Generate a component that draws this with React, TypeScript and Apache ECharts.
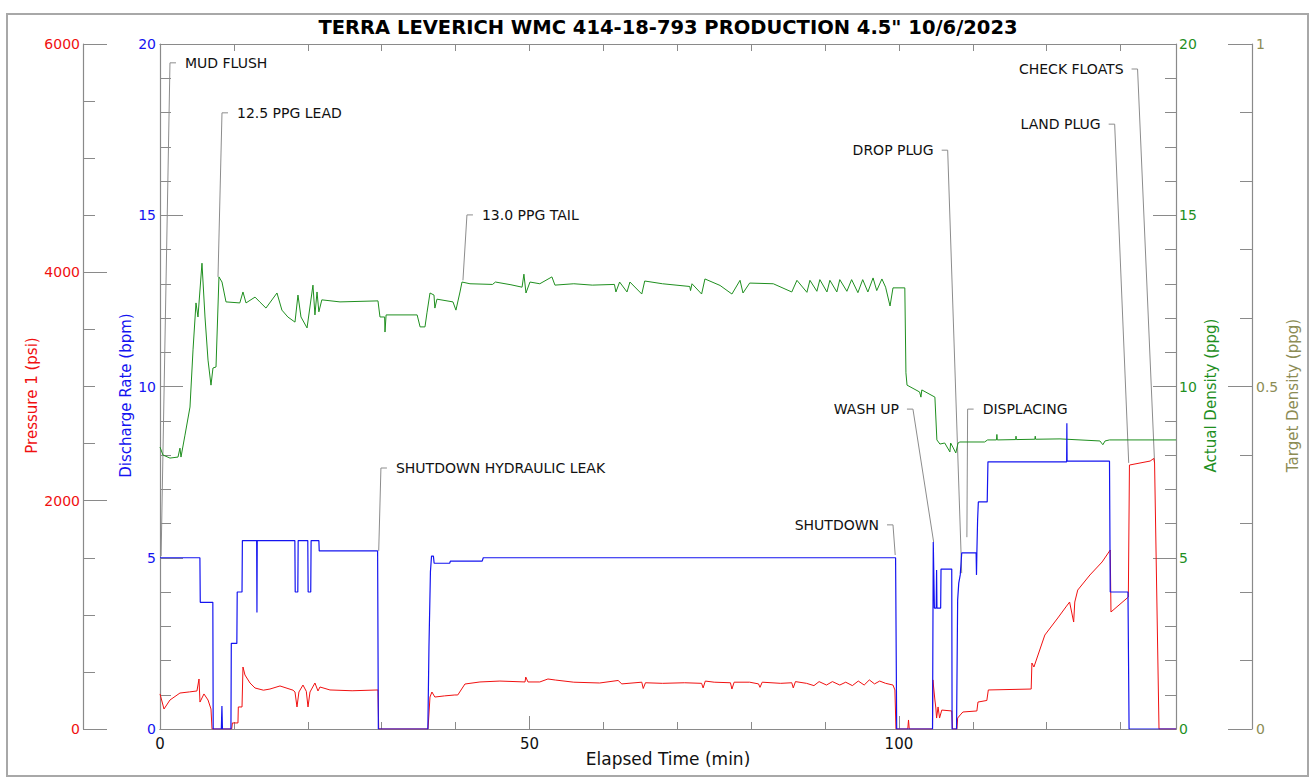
import React, { useEffect, useRef } from "react";
import * as echarts from "echarts";

const FONT = '"DejaVu Sans", Verdana, sans-serif';

const chartTitle = 'TERRA LEVERICH WMC 414-18-793 PRODUCTION 4.5" 10/6/2023';
const xAxisTitle = "Elapsed Time (min)";
const pressureTitle = "Pressure 1 (psi)";
const rateTitle = "Discharge Rate (bpm)";
const actualDensityTitle = "Actual Density (ppg)";
const targetDensityTitle = "Target Density (ppg)";

// Discharge rate (bpm) vs elapsed time (min)
const dischargeRate: number[][] = [
  [0, 5.0], [5.4, 5.0], [5.45, 3.7], [7.15, 3.7], [7.2, 0], [8.3, 0], [8.38, 0.67], [8.45, 0],
  [9.6, 0], [9.65, 2.5], [10.4, 2.5], [10.45, 4.0], [11.1, 4.0], [11.15, 5.5], [13.08, 5.5],
  [13.12, 3.4], [13.16, 5.5], [18.25, 5.5], [18.3, 4.0], [18.65, 4.0], [18.7, 5.5], [20.0, 5.5],
  [20.05, 4.0], [20.4, 4.0], [20.45, 5.5], [21.5, 5.5], [21.55, 5.2], [29.45, 5.2], [29.55, 0],
  [36.25, 0], [36.4, 2.4], [36.6, 4.6], [36.75, 5.05], [37.0, 5.05], [37.1, 4.84], [39.2, 4.84],
  [39.3, 4.9], [43.6, 4.9], [43.75, 5.0], [99.55, 5.0], [99.7, 0], [104.55, 0], [104.65, 5.46],
  [104.8, 3.53], [105.05, 3.53], [105.1, 4.64], [105.15, 3.53], [105.65, 3.53], [105.7, 4.67],
  [107.15, 4.67], [107.2, 0], [107.8, 0], [107.95, 3.77], [108.1, 4.26], [108.3, 4.5],
  [108.5, 5.14], [110.45, 5.14], [110.5, 4.5], [110.55, 5.14], [110.65, 6.1], [110.75, 6.63],
  [111.95, 6.63], [112.05, 7.8], [122.7, 7.8], [122.73, 8.93], [122.76, 7.82], [128.5, 7.82],
  [128.6, 4.0], [131.0, 4.0], [131.15, 0], [137.5, 0],
];

// Pressure 1 (psi) vs elapsed time (min)
const pressure: number[][] = [
  [0, 307], [0.54, 175], [1.35, 254], [2.7, 315], [4.0, 325], [5.0, 333], [5.28, 438], [5.41, 236],
  [5.95, 307], [6.5, 254], [6.9, 175], [7.04, 0], [9.7, 0], [9.8, 53], [10.55, 53], [10.6, 193],
  [11.1, 193], [11.23, 543], [11.5, 473], [12.18, 403], [12.86, 359], [14.0, 340], [14.88, 350],
  [16.24, 377], [18.0, 340], [18.27, 324], [18.54, 193], [18.8, 324], [19.35, 385], [19.8, 330],
  [20.03, 193], [20.3, 324], [20.97, 403], [21.38, 333], [21.65, 368], [23.0, 342], [26.0, 335],
  [29.5, 342], [29.6, 0], [36.27, 0], [36.54, 280], [36.8, 324], [37.2, 280], [38.5, 290],
  [39.9, 298], [40.3, 298], [41.27, 394], [43.3, 412], [46.0, 420], [49.4, 412], [49.5, 455],
  [49.8, 412], [51.4, 412], [52.5, 438], [53.5, 429], [56.0, 410], [59.5, 403], [62.0, 425],
  [62.5, 395], [65.2, 410], [65.4, 355], [65.7, 405], [68.0, 400], [71.0, 405], [73.3, 400],
  [73.5, 360], [73.8, 420], [75.0, 410], [77.2, 405], [77.4, 350], [77.7, 410], [79.8, 410],
  [81.0, 395], [81.2, 365], [81.5, 410], [84.0, 400], [85.5, 405], [85.7, 360], [86.0, 415],
  [87.5, 400], [88.5, 380], [89.2, 415], [90.2, 385], [91.0, 415], [92.0, 385], [92.8, 410],
  [93.7, 380], [94.5, 420], [95.3, 385], [96.0, 430], [96.7, 395], [97.4, 420], [98.2, 400],
  [99.2, 385], [99.46, 342], [99.6, 0], [101.2, 0], [101.3, 79], [101.4, 0], [104.55, 0],
  [104.6, 430], [104.87, 254], [105.0, 184], [105.1, 96], [105.3, 193], [105.5, 96], [105.8, 166],
  [107.15, 158], [107.25, 0], [107.85, 0], [107.95, 96], [108.3, 123], [108.66, 149],
  [110.55, 158], [110.7, 236], [111.9, 250], [112.1, 342], [117.9, 350], [118.0, 578],
  [118.27, 543], [119.75, 823], [121.5, 972], [122.6, 1069], [123.1, 1112], [123.65, 937],
  [123.8, 1112], [124.2, 1217], [125.85, 1349], [127.5, 1463], [128.6, 1568], [128.7, 1025],
  [131.05, 1156], [131.2, 2312], [134.0, 2347], [134.5, 2370], [134.6, 2330], [135.2, 0],
  [137.5, 0],
];

// Actual density (ppg) vs elapsed time (min)
const actualDensity: number[][] = [
  [0, 8.23], [0.4, 8.0], [1.35, 7.91], [2.44, 7.94], [2.7, 8.2], [2.84, 7.94], [3.38, 8.58],
  [4.06, 9.4], [4.47, 11.07], [4.87, 12.44], [5.14, 12.03], [5.68, 13.6], [6.09, 12.03],
  [6.5, 10.77], [6.9, 10.04], [7.17, 10.54], [7.58, 10.57], [7.98, 13.2], [8.39, 13.05],
  [8.93, 12.47], [10.8, 12.44], [11.23, 12.76], [11.64, 12.44], [12.86, 12.61], [13.5, 12.47],
  [14.34, 12.29], [15.83, 12.73], [16.5, 12.23], [17.3, 12.03], [18.27, 11.88], [18.67, 12.67],
  [19.08, 12.03], [19.9, 11.71], [20.7, 12.96], [20.97, 12.09], [21.25, 12.76], [21.5, 12.18],
  [21.9, 12.53], [24.36, 12.47], [29.5, 12.5], [29.77, 12.03], [30.4, 12.03], [30.45, 11.59],
  [30.6, 12.09], [34.8, 12.09], [35.2, 11.74], [35.86, 11.74], [36.13, 12.15], [36.54, 12.73],
  [37.08, 12.67], [37.2, 12.29], [37.48, 12.55], [39.65, 12.47], [40.05, 12.23], [40.6, 12.76],
  [40.87, 13.05], [41.95, 13.0], [45.0, 12.98], [45.4, 13.05], [47.5, 12.97], [49.0, 12.9],
  [49.25, 13.28], [49.53, 12.73], [50.07, 13.05], [51.4, 13.0], [53.04, 13.2], [53.45, 12.96],
  [56.0, 13.0], [58.5, 12.96], [61.5, 12.98], [61.7, 12.76], [62.2, 13.05], [63.2, 12.76],
  [63.6, 13.05], [65.2, 12.7], [65.6, 13.08], [68.0, 13.0], [71.7, 12.92], [71.8, 12.8],
  [72.0, 13.0], [73.3, 12.7], [73.75, 13.14], [75.8, 12.95], [77.4, 12.7], [78.5, 13.1],
  [78.9, 12.73], [79.8, 13.02], [83.0, 13.0], [85.5, 12.76], [86.2, 13.1], [87.55, 12.75],
  [87.96, 13.1], [88.9, 12.78], [89.3, 13.12], [90.26, 12.76], [90.66, 13.1], [91.6, 12.76],
  [92.0, 13.12], [92.96, 12.78], [93.6, 13.12], [94.45, 12.74], [95.1, 13.12], [95.8, 12.76],
  [96.5, 13.17], [97.0, 12.8], [97.7, 13.14], [98.2, 12.9], [98.8, 12.35], [99.2, 12.88],
  [100.8, 12.88], [100.95, 10.4], [101.1, 10.04], [102.8, 9.84], [102.98, 9.69], [103.1, 9.9],
  [104.87, 9.69], [105.14, 8.44], [105.55, 8.32], [106.2, 8.35], [106.9, 8.09], [107.0, 8.35],
  [107.3, 8.23], [107.7, 8.06], [108.0, 8.35], [108.25, 8.38], [111.6, 8.38], [112.0, 8.44],
  [113.2, 8.44], [113.26, 8.6], [113.32, 8.44], [115.8, 8.45], [115.85, 8.55], [115.9, 8.45],
  [118.4, 8.46], [118.45, 8.55], [118.5, 8.46], [121.8, 8.47], [127.2, 8.41], [127.6, 8.3],
  [127.9, 8.41], [128.5, 8.44], [137.5, 8.44],
];

// Event annotations: leader line from the event point (time, rate) up to the label corner
const annotationNames = [
  "MUD FLUSH", "12.5 PPG LEAD", "13.0 PPG TAIL", "SHUTDOWN HYDRAULIC LEAK", "SHUTDOWN",
  "WASH UP", "DROP PLUG", "DISPLACING", "LAND PLUG", "CHECK FLOATS",
];
const annotationEventTime = [0.15, 7.85, 41.0, 29.6, 99.5, 104.7, 108.5, 109.2, 131.1, 134.6];
const annotationEventValue = [5.05, 13.2, 13.1, 5.2, 5.08, 5.46, 4.55, 5.6, 7.77, 7.77];
const annotationLabelTime = [1.35, 8.39, 41.54, 29.9, 99.2, 101.9, 106.6, 109.3, 129.2, 132.3];
const annotationLabelValue = [19.45, 17.99, 15.01, 7.62, 5.96, 9.34, 16.9, 9.34, 17.66, 19.27];
const annotationLabelSide = ["right", "right", "right", "right", "left", "left", "left", "right", "left", "left"];

const RED = "#f01010";
const BLUE = "#1414f0";
const GREEN = "#1f8f1f";
const OLIVE = "#8c8c55";
const AXIS_GREY = "#8a8a8a";

export default function App() {
  const ref = useRef<HTMLDivElement>(null);

  useEffect(() => {
    if (!ref.current) return;
    const chart = echarts.init(ref.current, undefined, { renderer: "svg" });
    const axisLine = { show: true, onZero: false, lineStyle: { color: AXIS_GREY, width: 1.2 } };
    const tickLine = { color: AXIS_GREY, width: 1 };

    const yAxisBase = (o: any) => ({
      type: "value",
      axisLine,
      splitLine: { show: false },
      minorSplitLine: { show: false },
      nameLocation: "middle",
      nameRotate: 90,
      nameMoveOverlap: false,
      ...o,
    });

    const xBase = (o: any) => ({
      type: "value",
      min: 0,
      max: 137.5,
      axisLine,
      splitLine: { show: false },
      ...o,
    });

    const nameStyle = (color: string) => ({
      color,
      fontSize: 15,
      fontFamily: FONT,
      padding: [0, 18, 0, 0],
    });

    const option: any = {
      animation: false,
      backgroundColor: "#ffffff",
      textStyle: { fontFamily: FONT },
      grid: { left: 160, right: 138, top: 44, bottom: 50, containLabel: false },
      graphic: [
        {
          type: "rect",
          shape: { x: 7, y: 14, width: 1301, height: 762 },
          style: { fill: "none", stroke: "#a8a8a8", lineWidth: 2 },
          silent: true,
        },
        {
          type: "text",
          x: 668,
          y: 27,
          style: {
            text: chartTitle,
            align: "center",
            verticalAlign: "middle",
            font: `bold 19.5px ${FONT}`,
            fill: "#000",
          },
          silent: true,
        },
      ],
      xAxis: [
        xBase({
          position: "bottom",
          interval: 50,
          axisTick: { show: true, inside: true, length: 13, lineStyle: tickLine },
          axisLabel: { color: "#111", fontSize: 15, margin: 7, fontFamily: FONT, showMaxLabel: false },
          name: xAxisTitle,
          nameLocation: "middle",
          nameGap: 21,
          nameMoveOverlap: false,
          nameTextStyle: { color: "#111", fontSize: 17, fontFamily: FONT, verticalAlign: "top" },
        }),
        xBase({
          position: "bottom",
          interval: 10,
          axisTick: { show: true, inside: true, length: 7, lineStyle: tickLine },
          axisLabel: { show: false },
        }),
        xBase({
          position: "top",
          interval: 10,
          axisTick: { show: true, inside: true, length: 7, lineStyle: tickLine },
          axisLabel: { show: false },
        }),
      ],
      yAxis: [
        yAxisBase({
          position: "left",
          offset: 77,
          min: 0,
          max: 6000,
          interval: 2000,
          axisTick: { show: true, inside: true, length: 24, lineStyle: tickLine },
          minorTick: { show: true, splitNumber: 4, length: 12, lineStyle: tickLine },
          axisLabel: { color: RED, fontSize: 14, margin: 3, fontFamily: FONT, formatter: (v: number) => String(v) },
          name: pressureTitle,
          nameGap: 44,
          nameTextStyle: nameStyle(RED),
        }),
        yAxisBase({
          position: "left",
          offset: 0,
          min: 0,
          max: 20,
          interval: 5,
          axisTick: { show: true, inside: true, length: 23, lineStyle: tickLine },
          minorTick: { show: true, splitNumber: 5, length: 11, lineStyle: tickLine },
          axisLabel: { color: BLUE, fontSize: 14, margin: 4, fontFamily: FONT },
          name: rateTitle,
          nameGap: 27,
          nameTextStyle: nameStyle(BLUE),
        }),
        yAxisBase({
          position: "right",
          offset: 0,
          min: 0,
          max: 20,
          interval: 5,
          axisTick: { show: true, inside: true, length: 23, lineStyle: tickLine },
          minorTick: { show: true, splitNumber: 5, length: 11, lineStyle: tickLine },
          axisLabel: { color: GREEN, fontSize: 14, margin: 3, fontFamily: FONT },
          name: actualDensityTitle,
          nameGap: 27,
          nameTextStyle: nameStyle(GREEN),
        }),
        yAxisBase({
          position: "right",
          offset: 76,
          min: 0,
          max: 1,
          interval: 0.5,
          axisTick: { show: true, inside: true, length: 24, lineStyle: tickLine },
          minorTick: { show: true, splitNumber: 5, length: 12, lineStyle: tickLine },
          axisLabel: { color: OLIVE, fontSize: 14, margin: 4, fontFamily: FONT },
          name: targetDensityTitle,
          nameGap: 33,
          nameTextStyle: nameStyle(OLIVE),
        }),
      ],
      series: [
        {
          type: "custom",
          name: "Events",
          xAxisIndex: 0,
          yAxisIndex: 1,
          silent: true,
          clip: false,
          z: 1,
          encode: { x: [0, 2], y: [1, 3] },
          data: annotationEventTime.map((t, i) => [
            t,
            annotationEventValue[i],
            annotationLabelTime[i],
            annotationLabelValue[i],
          ]),
          renderItem: (params: any, api: any) => {
            const i = params.dataIndex;
            const end = api.coord([api.value(0), api.value(1)]);
            const corner = api.coord([api.value(2), api.value(3)]);
            const right = annotationLabelSide[i] === "right";
            const tipX = corner[0] + (right ? 6 : -6);
            return {
              type: "group",
              children: [
                {
                  type: "polyline",
                  shape: { points: [end, corner, [tipX, corner[1]]] },
                  style: { stroke: "#8c8c8c", lineWidth: 1, fill: null },
                },
                {
                  type: "text",
                  x: tipX + (right ? 9 : -8),
                  y: corner[1],
                  style: {
                    text: annotationNames[i],
                    align: right ? "left" : "right",
                    verticalAlign: "middle",
                    font: `14px ${FONT}`,
                    fill: "#111",
                  },
                },
              ],
            };
          },
        },
        {
          type: "line",
          name: "Pressure 1",
          xAxisIndex: 0,
          yAxisIndex: 0,
          data: pressure,
          showSymbol: false,
          z: 2,
          lineStyle: { color: RED, width: 1 },
          itemStyle: { color: RED },
        },
        {
          type: "line",
          name: "Actual Density",
          xAxisIndex: 0,
          yAxisIndex: 2,
          data: actualDensity,
          showSymbol: false,
          z: 3,
          lineStyle: { color: GREEN, width: 1 },
          itemStyle: { color: GREEN },
        },
        {
          type: "line",
          name: "Discharge Rate",
          xAxisIndex: 0,
          yAxisIndex: 1,
          data: dischargeRate,
          showSymbol: false,
          z: 4,
          lineStyle: { color: BLUE, width: 1.2 },
          itemStyle: { color: BLUE },
        },
      ],
    };

    chart.setOption(option);
    return () => chart.dispose();
  }, []);

  return (
    <div
      ref={ref}
      style={{ position: "absolute", left: 0, top: 0, width: 1314, height: 779, background: "#fff" }}
    />
  );
}
